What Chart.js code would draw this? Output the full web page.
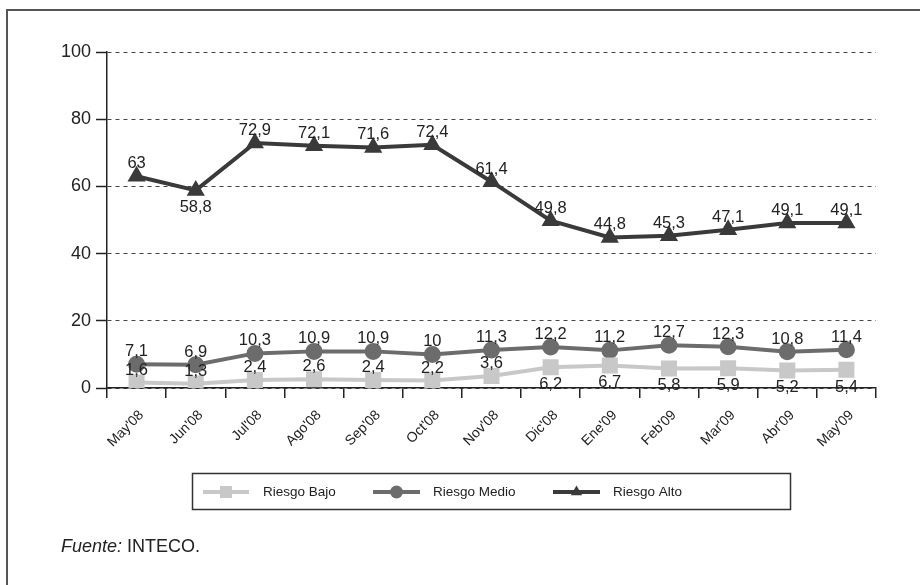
<!DOCTYPE html>
<html>
<head>
<meta charset="utf-8">
<script src="https://cdn.jsdelivr.net/npm/chart.js@4.4.0/dist/chart.umd.min.js"></script>
<style>
  html,body{margin:0;padding:0;background:#fff;}
  #wrap{position:relative;width:920px;height:585px;overflow:hidden;font-family:"Liberation Sans",Arial,sans-serif;}
  #frame{position:absolute;left:6px;top:9px;width:960px;height:640px;border-left:2px solid #555;border-top:2px solid #555;}
  #c{position:absolute;left:0;top:0;}
  #note{position:absolute;left:61px;top:536px;font-size:18px;color:#222;}
</style>
</head>
<body>
<div id="wrap">
  <div id="frame"></div>
  <canvas id="c" width="920" height="585"></canvas>
  <div id="note"><i>Fuente:</i> INTECO.</div>
</div>
<script>
const categories = ["May'08","Jun'08","Jul'08","Ago'08","Sep'08","Oct'08","Nov'08","Dic'08","Ene'09","Feb'09","Mar'09","Abr'09","May'09"];
const riesgoBajo  = [1.6, 1.3, 2.4, 2.6, 2.4, 2.2, 3.6, 6.2, 6.7, 5.8, 5.9, 5.2, 5.4];
const riesgoMedio = [7.1, 6.9, 10.3, 10.9, 10.9, 10, 11.3, 12.2, 11.2, 12.7, 12.3, 10.8, 11.4];
const riesgoAlto  = [63, 58.8, 72.9, 72.1, 71.6, 72.4, 61.4, 49.8, 44.8, 45.3, 47.1, 49.1, 49.1];
const yTicks = [0, 20, 40, 60, 80, 100];
const seriesNames = ["Riesgo Bajo", "Riesgo Medio", "Riesgo Alto"];

// label placement: 'a' above, 'b' below
const posBajo  = ['a','a','a','a','a','a','a','b','b','b','b','b','b'];
const posMedio = ['a','a','a','a','a','a','a','a','a','a','a','a','a'];
const posAlto  = ['a','b','a','a','a','a','a','a','a','a','a','a','a'];
const positions = [posBajo, posMedio, posAlto];

const FONT = '"Liberation Sans", Arial, sans-serif';

const labelPlugin = {
  id: 'labels',
  afterDatasetsDraw(chart) {
    const ctx = chart.ctx;
    ctx.save();
    ctx.font = '16.5px ' + FONT;
    ctx.fillStyle = '#222';
    ctx.textAlign = 'center';
    chart.data.datasets.forEach((ds, di) => {
      const meta = chart.getDatasetMeta(di);
      meta.data.forEach((pt, i) => {
        const txt = String(ds.data[i]).replace('.', ',');
        if (positions[di][i] === 'a') {
          ctx.textBaseline = 'alphabetic';
          ctx.fillText(txt, pt.x, pt.y - 8);
        } else {
          ctx.textBaseline = 'top';
          ctx.fillText(txt, pt.x, pt.y + 9);
        }
      });
    });
    ctx.restore();
  },
  afterDraw(chart) {
    const ctx = chart.ctx;
    ctx.save();
    // legend box
    ctx.strokeStyle = '#333';
    ctx.lineWidth = 1.5;
    ctx.strokeRect(192.5, 473.5, 598, 36);
    const items = [
      {x1: 203, x2: 249, tx: 263},
      {x1: 373, x2: 420, tx: 433},
      {x1: 553, x2: 600, tx: 613}
    ];
    const cy = 492;
    chart.data.datasets.forEach((ds, di) => {
      const it = items[di];
      ctx.strokeStyle = ds.borderColor;
      ctx.lineWidth = ds.borderWidth;
      ctx.beginPath();
      ctx.moveTo(it.x1, cy); ctx.lineTo(it.x2, cy); ctx.stroke();
      ctx.fillStyle = ds.pointBackgroundColor;
      ctx.strokeStyle = ds.pointBackgroundColor;
      ctx.lineWidth = 0.01;
      Chart.helpers.drawPoint(ctx, {
        pointStyle: ds.pointStyle, radius: ds.pointRadius, borderWidth: 0, rotation: 0
      }, (it.x1 + it.x2) / 2, cy);
      ctx.fillStyle = '#222';
      ctx.font = '13.5px ' + FONT;
      ctx.textAlign = 'left';
      ctx.textBaseline = 'middle';
      ctx.fillText(seriesNames[di], it.tx, cy);
    });
    ctx.restore();
  }
};

new Chart(document.getElementById('c'), {
  type: 'line',
  data: {
    labels: categories,
    datasets: [
      {label: seriesNames[0], data: riesgoBajo, borderColor: '#c8c8c8', backgroundColor: '#c8c8c8',
       pointBackgroundColor: '#c8c8c8', pointBorderColor: '#c8c8c8', borderWidth: 4, pointStyle: 'rect', pointRadius: 8.5, tension: 0},
      {label: seriesNames[1], data: riesgoMedio, borderColor: '#6c6c6c', backgroundColor: '#6c6c6c',
       pointBackgroundColor: '#6c6c6c', pointBorderColor: '#6c6c6c', borderWidth: 4, pointStyle: 'circle', pointRadius: 6.5, tension: 0},
      {label: seriesNames[2], data: riesgoAlto, borderColor: '#3a3a3a', backgroundColor: '#3a3a3a',
       pointBackgroundColor: '#3a3a3a', pointBorderColor: '#3a3a3a', borderWidth: 4, pointStyle: 'triangle', pointRadius: 6.5, tension: 0}
    ]
  },
  options: {
    responsive: false,
    animation: false,
    devicePixelRatio: 1,
    layout: {padding: {left: 0, right: 44, top: 52, bottom: 0}},
    plugins: {legend: {display: false}, tooltip: {enabled: false}},
    scales: {
      x: {
        offset: true,
        afterFit(s) { s.height = 197; },
        grid: {offset: true, drawOnChartArea: false, drawTicks: true, tickLength: 10, color: '#222', lineWidth: 1.5},
        border: {display: true, color: '#222', width: 1.5},
        ticks: {minRotation: 45, maxRotation: 45, padding: 9, labelOffset: 5, color: '#222', font: {family: FONT, size: 14}, autoSkip: false}
      },
      y: {
        min: 0, max: 100,
        afterFit(s) { s.width = 107; },
        afterBuildTicks(s) { s.ticks = yTicks.map(v => ({value: v})); },
        grid: {color: '#444', lineWidth: 1, drawTicks: true, tickLength: 11,
               tickBorderDash: [], tickColor: '#222', tickWidth: 1.5},
        border: {display: true, color: '#222', width: 1.5, dash: [4, 4]},
        ticks: {padding: 5, color: '#222', font: {family: FONT, size: 18}}
      }
    }
  },
  plugins: [labelPlugin]
});
</script>
</body>
</html>
